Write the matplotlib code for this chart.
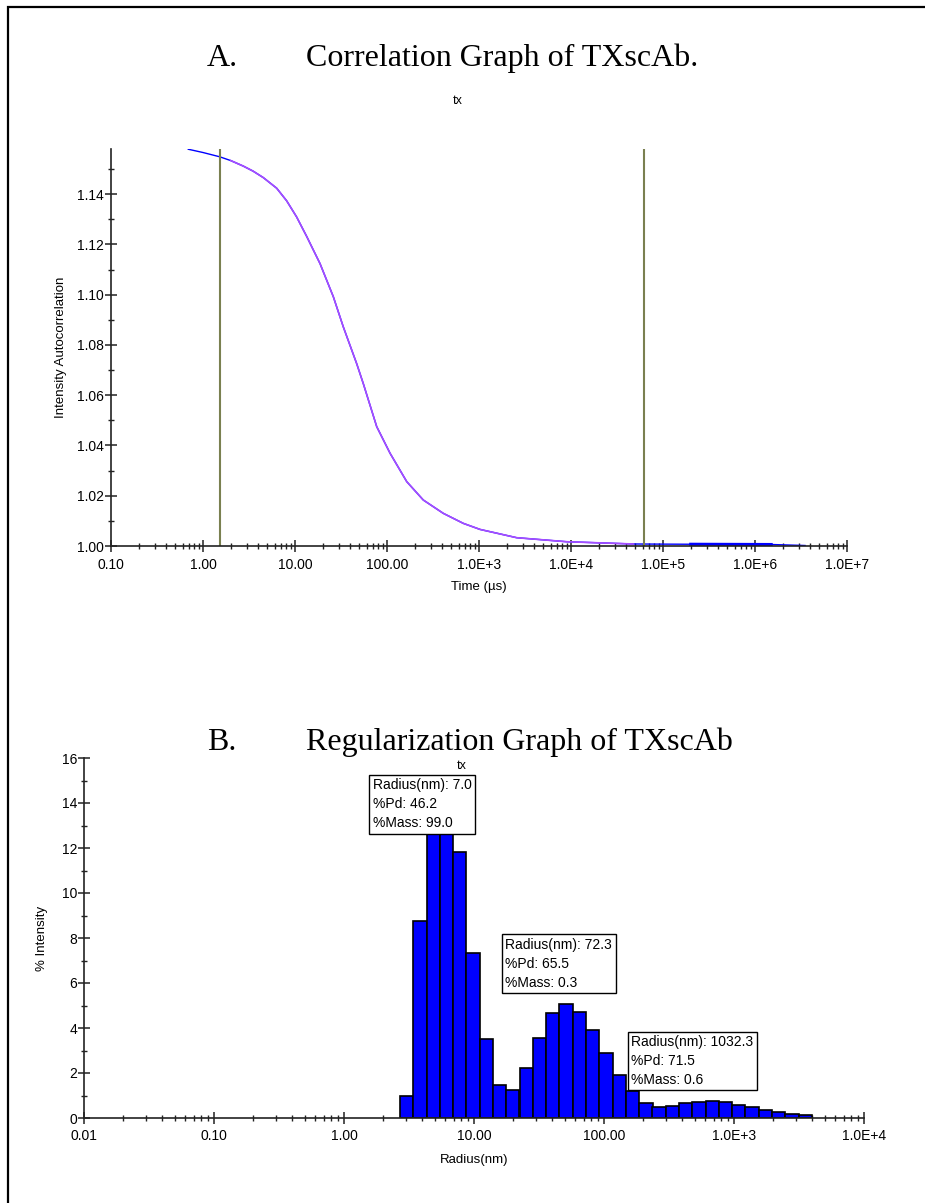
import matplotlib
matplotlib.use("Agg")
import matplotlib.pyplot as plt
import matplotlib.ticker as mticker
from matplotlib.patches import Rectangle
import numpy as np

plt.rcParams['font.family'] = ['Liberation Sans', 'DejaVu Sans']

# correlation curve (time in us, intensity autocorrelation)
corr_time = [0.692, 1.0, 1.52, 2.0, 2.74, 3.5, 4.53, 6.32, 8.11, 10.4, 13.4, 18.7, 26.1, 33.5,
             46.9, 55.4, 77.3, 108, 164, 248, 409, 676, 1026, 2570, 8980, 4.75e4, 2.0e5,
             1.5e6, 3.5e6]
corr_g = [1.1579, 1.1566, 1.1549, 1.1534, 1.1512, 1.1492, 1.1466, 1.1424, 1.1374, 1.1310,
          1.1232, 1.1124, 1.0992, 1.0872, 1.0725, 1.0645, 1.0475, 1.0369, 1.0256, 1.0183,
          1.0130, 1.0090, 1.0066, 1.0033, 1.0017, 1.0008, 1.0007, 1.0006, 1.0002]
cursor_times = [1.53, 6.2e4]
time_ticks = [0.1, 1, 10, 100, 1e3, 1e4, 1e5, 1e6, 1e7]
time_labels = ["0.10", "1.00", "10.00", "100.00", "1.0E+3", "1.0E+4", "1.0E+5", "1.0E+6", "1.0E+7"]
corr_yticks = [1.00, 1.02, 1.04, 1.06, 1.08, 1.10, 1.12, 1.14]

# regularization histogram
radius = [3.03, 3.84, 4.86, 6.15, 7.78, 9.84, 12.45, 15.75, 19.9, 25.2, 31.9, 40.4, 51.1, 64.7,
          81.8, 103.5, 131, 166, 210, 265, 336, 425, 537, 680, 861, 1089, 1378, 1743, 2207,
          2792, 3532]
intensity = [1.0, 8.77, 13.9, 14.4, 11.84, 7.32, 3.5, 1.48, 1.24, 2.22, 3.57, 4.65, 5.05, 4.7,
             3.91, 2.87, 1.9, 1.2, 0.65, 0.47, 0.53, 0.65, 0.71, 0.77, 0.71, 0.59, 0.47, 0.36,
             0.27, 0.18, 0.12]
radius_ticks = [0.01, 0.1, 1, 10, 100, 1e3, 1e4]
radius_labels = ["0.01", "0.10", "1.00", "10.00", "100.00", "1.0E+3", "1.0E+4"]
peak_text = ["Radius(nm): 7.0\n%Pd: 46.2\n%Mass: 99.0",
             "Radius(nm): 72.3\n%Pd: 65.5\n%Mass: 0.3",
             "Radius(nm): 1032.3\n%Pd: 71.5\n%Mass: 0.6"]
peak_box_pos = [(1.55, 15.28), (16.2, 8.2), (151, 3.87)]

W, H = 925, 1203
fig = plt.figure(figsize=(W / 100, H / 100), dpi=100)


def style_axis(ax):
    for s in ["top", "right"]:
        ax.spines[s].set_visible(False)
    for s in ["left", "bottom"]:
        ax.spines[s].set_linewidth(1.2)
        ax.spines[s].set_color("#222222")
    ax.tick_params(which="major", direction="inout", length=8, width=1.1, labelsize=10,
                   color="#222222")
    ax.tick_params(which="minor", direction="inout", length=4, width=1.0, color="#222222")
    ax.tick_params(axis="x", which="major", pad=5)
    ax.tick_params(axis="y", which="major", pad=1)


# ---- A. correlation graph
ax1 = fig.add_axes([111 / W, 1 - 546 / H, (847 - 111) / W, (546 - 149) / H])
t = np.array(corr_time)
g = np.array(corr_g)
ax1.plot(t, g, color="#0000ff", lw=1.0)
inside = (t >= cursor_times[0]) & (t <= cursor_times[1])
ax1.plot(t[inside], g[inside], color="#a64dff", lw=1.2)
late = (t >= cursor_times[1]) & (t <= 1.5e6)
ax1.plot(t[late], g[late], color="#0000ff", lw=2.2)
for c in cursor_times:
    ax1.axvline(c, color="#7a8050", lw=1.5)
ax1.set_xscale("log")
ax1.set_xlim(0.1, 1e7)
ax1.set_ylim(1.0, 1.158)
ax1.xaxis.set_major_locator(mticker.FixedLocator(time_ticks))
ax1.xaxis.set_major_formatter(mticker.FixedFormatter(time_labels))
ax1.xaxis.set_minor_locator(mticker.LogLocator(base=10, subs=np.arange(2, 10)))
ax1.xaxis.set_minor_formatter(mticker.NullFormatter())
ax1.set_yticks(corr_yticks)
ax1.set_yticklabels(["%.2f" % v for v in corr_yticks])
ax1.yaxis.set_minor_locator(mticker.MultipleLocator(0.01))
style_axis(ax1)
ax1.set_xlabel("Time (\u00b5s)", fontsize=9.5, labelpad=6)
ax1.set_ylabel("Intensity Autocorrelation", fontsize=9.5, labelpad=7)

# ---- B. regularization graph
ax2 = fig.add_axes([84 / W, 1 - 1118 / H, (864 - 84) / W, (1118 - 758) / H])
r = np.array(radius)
half = 10 ** 0.0511
ax2.bar(r / half, intensity, width=r * half - r / half, align="edge",
        color="#0000ff", edgecolor="black", linewidth=1.2, zorder=2)
ax2.set_xscale("log")
ax2.set_xlim(0.01, 1e4)
ax2.set_ylim(0, 16)
ax2.xaxis.set_major_locator(mticker.FixedLocator(radius_ticks))
ax2.xaxis.set_major_formatter(mticker.FixedFormatter(radius_labels))
ax2.xaxis.set_minor_locator(mticker.LogLocator(base=10, subs=np.arange(2, 10)))
ax2.xaxis.set_minor_formatter(mticker.NullFormatter())
ax2.set_yticks(range(0, 17, 2))
ax2.yaxis.set_minor_locator(mticker.MultipleLocator(1))
style_axis(ax2)
ax2.tick_params(axis="x", which="major", pad=4)
ax2.set_xlabel("Radius(nm)", fontsize=9.5, labelpad=8)
ax2.set_ylabel("% Intensity", fontsize=9.5, labelpad=10)

for txt, (px, py) in zip(peak_text, peak_box_pos):
    ax2.annotate(txt, xy=(px, py), xytext=(3, -3), textcoords="offset points",
                 ha="left", va="top", fontsize=10, linespacing=1.45, zorder=5,
                 bbox=dict(boxstyle="square,pad=0.25", fc="white", ec="black", lw=1.0))

# titles
serif = ['Liberation Serif', 'DejaVu Serif']
fig.text(207 / W, 1 - 58 / H, "A.", family=serif, fontsize=23, va="center")
fig.text(306 / W, 1 - 58 / H, "Correlation Graph of TXscAb.", family=serif, fontsize=23, va="center")
fig.text(458 / W, 1 - 101 / H, "tx", fontsize=9, ha="center", va="center")
fig.text(207 / W, 1 - 742 / H, "B.", family=serif, fontsize=23, va="center")
fig.text(306 / W, 1 - 742 / H, "Regularization Graph of TXscAb", family=serif, fontsize=23, va="center")
fig.text(462 / W, 1 - 766 / H, "tx", fontsize=9, ha="center", va="center")

# page border
fig.add_artist(Rectangle((8 / W, -0.05), 2, 1.05 - 7 / H, transform=fig.transFigure,
                         fill=False, ec="black", lw=1.6))

fig.savefig("out.png", dpi=100)
